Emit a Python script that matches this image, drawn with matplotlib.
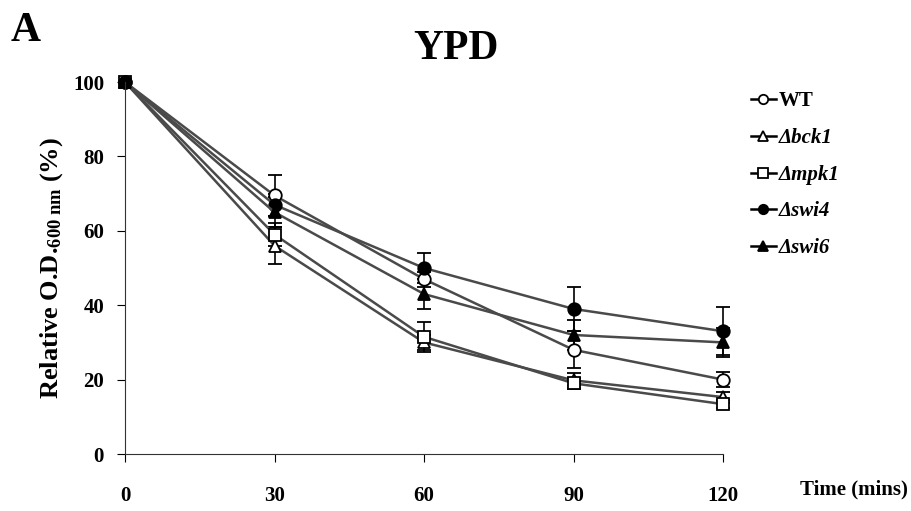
import numpy as np
import matplotlib
matplotlib.use("Agg")
import matplotlib.pyplot as plt

plt.rcParams['font.family'] = ['Liberation Serif', 'DejaVu Serif']
plt.rcParams['font.weight'] = 'bold'
plt.rcParams['mathtext.fontset'] = 'custom'
plt.rcParams['mathtext.rm'] = 'Liberation Serif'
plt.rcParams['mathtext.it'] = 'Liberation Serif:italic'
plt.rcParams['mathtext.bf'] = 'Liberation Serif:bold'

time = [0, 30, 60, 90, 120]
wt = [100, 69.5, 47, 28, 20]
bck1 = [100, 56, 30, 19.8, 15.3]
mpk1 = [100, 59, 31.5, 19, 13.4]
swi4 = [100, 67, 50, 39, 33]
swi6 = [100, 65, 43, 32, 30]

wt_err = [0, 5.5, 2, 5, 2]
bck1_err = [0, 5, 2, 2, 1.5]
mpk1_err = [0, 3, 4, 1.5, 1]
swi4_err = [0, 3, 4, 6, 6.5]
swi6_err = [0, 4, 4, 4, 4]

labels = ['WT', 'Δbck1', 'Δmpk1', 'Δswi4', 'Δswi6']
series = [wt, bck1, mpk1, swi4, swi6]
errs = [wt_err, bck1_err, mpk1_err, swi4_err, swi6_err]
markers = ['o', '^', 's', 'o', '^']
faces = ['white', 'white', 'white', 'black', 'black']

fig = plt.figure(figsize=(9.12, 5.11), dpi=100)
ax = fig.add_axes([0.137, 0.1115, 0.656, 0.728])

for y, e, m, fc, lab in zip(series, errs, markers, faces, labels):
    ax.errorbar(time, y, yerr=e, color='#4a4a4a', lw=1.8, marker=m,
                markersize=9, markerfacecolor=fc, markeredgecolor='black',
                markeredgewidth=1.3, ecolor='black', elinewidth=1.2,
                capsize=5, capthick=1.2, label=lab, clip_on=False)

ax.set_xlim(0, 120)
ax.set_ylim(0, 100)
ax.set_xticks(time)
ax.set_yticks([0, 20, 40, 60, 80, 100])
ax.spines['top'].set_visible(False)
ax.spines['right'].set_visible(False)
ax.spines['left'].set_color('#333333')
ax.spines['bottom'].set_color('#333333')
ax.tick_params(axis='x', direction='out', length=6, pad=17, labelsize=15)
ax.tick_params(axis='y', direction='out', length=6, pad=9, labelsize=15)
for t in ax.get_xticklabels() + ax.get_yticklabels():
    t.set_fontweight('bold')

ax.set_ylabel(r'Relative O.D.$_{\mathrm{600\ nm}}$ (%)', fontsize=19,
              fontweight='bold', labelpad=6)
fig.text(0.995, 0.042, 'Time (mins)', ha='right', va='center',
         fontsize=15, fontweight='bold')
fig.text(0.5, 0.905, 'YPD', ha='center', va='center', fontsize=30,
         fontweight='bold')
fig.text(0.012, 0.94, 'A', ha='left', va='center', fontsize=30,
         fontweight='bold')

handles, labs = ax.get_legend_handles_labels()
handles = [h[0] for h in handles]
leg = ax.legend(handles, labs, loc='upper left', bbox_to_anchor=(1.015, 1.025),
                frameon=False, handlelength=1.2, handletextpad=0.15,
                labelspacing=0.8, markerscale=0.75,
                prop={'size': 15, 'weight': 'bold'})
for i, t in enumerate(leg.get_texts()):
    if i > 0:
        t.set_fontstyle('italic')
for h in leg.legend_handles:
    h.set_color('black')
    h.set_markeredgecolor('black')

fig.savefig('out.png', dpi=100)
